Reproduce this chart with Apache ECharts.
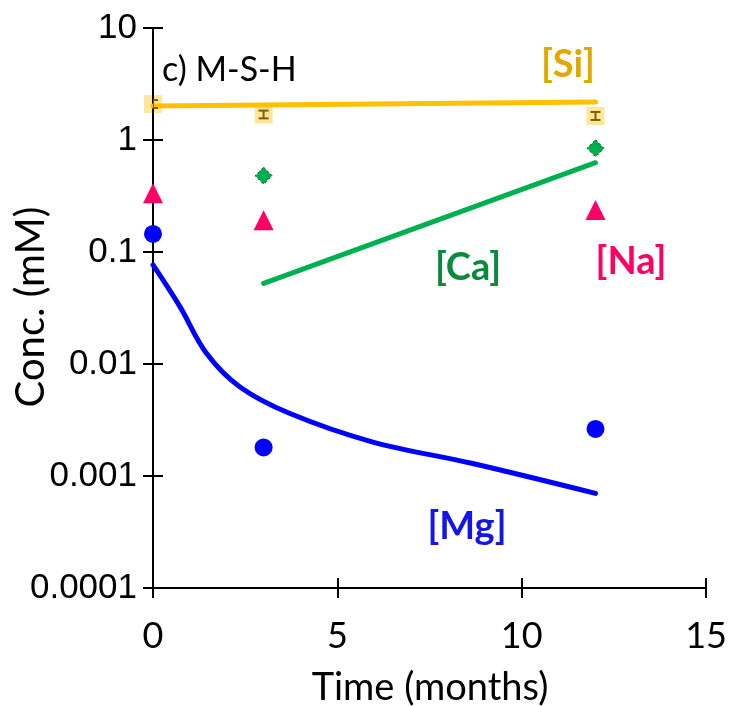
<!DOCTYPE html>
<html>
<head>
<meta charset="utf-8">
<script src="https://cdn.jsdelivr.net/npm/echarts@6/dist/echarts.min.js"></script>
<style>
  html, body { margin: 0; padding: 0; background: #fff; }
  #chart { width: 730px; height: 706px; }
</style>
</head>
<body>
<div id="chart"></div>
<script>
// Time axis (months) and log concentration axis tick labels
const xTicks = [0, 5, 10, 15];
const yTickLabels = ['0.0001', '0.001', '0.01', '0.1', '1', '10'];

// Measured concentrations (mM)
const siTime = [0, 3, 12];
const siConc = [2.09, 1.69, 1.64];
const siLow = [1.93, 1.56, 1.51];
const siHigh = [2.27, 1.83, 1.78];

const caTime = [3, 12];
const caConc = [0.48, 0.843];

const naTime = [0, 3, 12];
const naConc = [0.334, 0.192, 0.237];

const mgTime = [0, 3, 12];
const mgConc = [0.145, 0.0018, 0.00263];

// Modelled concentrations (mM)
const siModelTime = [0, 12];
const siModelConc = [2.01, 2.18];

const caModelTime = [3, 12];
const caModelConc = [0.0525, 0.627];

const mgModelTime = [0, 0.73, 1.45, 2.35, 3.70, 5.94, 8.64, 12];
const mgModelConc = [0.0766, 0.0325, 0.01247, 0.00627, 0.00363, 0.00202, 0.0013, 0.0007];

const pairs = (xs, ys) => xs.map((x, i) => [x, ys[i]]);

const chart = echarts.init(document.getElementById('chart'));

const tickStyle = { color: '#000', width: 2 };
const baseX = {
  type: 'value', min: 0, max: 15, interval: 5,
  axisLine: { show: true, onZero: false, lineStyle: { color: '#000', width: 2 } },
  splitLine: { show: false }
};
const baseY = {
  type: 'log', logBase: 10, min: 0.0001, max: 10,
  axisLine: { show: true, lineStyle: { color: '#000', width: 2 } },
  splitLine: { show: false }
};

chart.setOption({
  animation: false,
  backgroundColor: '#fff',
  grid: { left: 153, right: 21, top: 28, bottom: 118 },
  xAxis: [
    Object.assign({}, baseX, {
      z: 1,
      axisTick: { show: true, inside: false, length: 10, lineStyle: tickStyle },
      axisLabel: {
        color: '#000', fontFamily: 'Lato', fontSize: 36, margin: 30,
        formatter: v => xTicks.includes(v) ? String(v) : ''
      }
    }),
    Object.assign({}, baseX, {
      position: 'bottom',
      axisLine: { show: false },
      axisTick: { show: true, inside: true, length: 10, lineStyle: tickStyle },
      axisLabel: { show: false }
    })
  ],
  yAxis: [
    Object.assign({}, baseY, {
      z: 1,
      axisTick: { show: true, inside: false, length: 10, lineStyle: tickStyle },
      axisLabel: {
        color: '#000', fontFamily: 'Liberation Sans', fontSize: 35, margin: 16,
        formatter: v => yTickLabels[Math.round(Math.log10(v)) + 4] || ''
      }
    }),
    Object.assign({}, baseY, {
      position: 'left',
      axisLine: { show: false },
      axisTick: { show: true, inside: true, length: 10, lineStyle: tickStyle },
      axisLabel: { show: false }
    })
  ],
  series: [
    {
      name: 'Si', type: 'scatter', data: pairs(siTime, siConc),
      symbol: 'rect', symbolSize: 18, itemStyle: { color: '#FFE699', opacity: 1 }, z: 0
    },
    {
      name: 'Si model', type: 'line', data: pairs(siModelTime, siModelConc),
      symbol: 'none', lineStyle: { color: '#FFC000', width: 5, cap: 'round' }, z: 3
    },
    {
      name: 'Si error', type: 'custom', clip: true, z: 4,
      data: siTime.map((t, i) => [t, siLow[i], siHigh[i]]),
      renderItem: function (params, api) {
        const lo = api.coord([api.value(0), api.value(1)]);
        const hi = api.coord([api.value(0), api.value(2)]);
        const w = 5;
        const style = { stroke: '#7F6000', lineWidth: 2, fill: null };
        return {
          type: 'group',
          children: [
            { type: 'line', shape: { x1: lo[0], y1: lo[1], x2: hi[0], y2: hi[1] }, style },
            { type: 'line', shape: { x1: lo[0] - w, y1: lo[1], x2: lo[0] + w, y2: lo[1] }, style },
            { type: 'line', shape: { x1: hi[0] - w, y1: hi[1], x2: hi[0] + w, y2: hi[1] }, style }
          ]
        };
      }
    },
    {
      name: 'Ca model', type: 'line', data: pairs(caModelTime, caModelConc),
      symbol: 'none', lineStyle: { color: '#00B050', width: 5, cap: 'round' }, z: 3
    },
    {
      name: 'Ca', type: 'scatter', data: pairs(caTime, caConc),
      symbol: 'diamond', symbolSize: [17, 17],
      itemStyle: { color: '#00B050', opacity: 1, borderColor: '#1a1a1a', borderWidth: 1, borderType: [2, 3] }, z: 4
    },
    {
      name: 'Na', type: 'scatter', data: pairs(naTime, naConc),
      symbol: 'triangle', symbolSize: [20, 20], itemStyle: { color: '#FF0066', opacity: 1 }, z: 4
    },
    {
      name: 'Mg model', type: 'line', data: pairs(mgModelTime, mgModelConc),
      symbol: 'none', smooth: 0.35, lineStyle: { color: '#0000FF', width: 5, cap: 'round', join: 'round' }, z: 3
    },
    {
      name: 'Mg', type: 'scatter', data: pairs(mgTime, mgConc),
      symbol: 'circle', symbolSize: 18, itemStyle: { color: '#0000FF', opacity: 1 }, z: 4
    }
  ],
  graphic: [
    // axis titles
    { type: 'text', x: 430, y: 688, style: { text: 'Time (months)', fill: '#000', font: '38px Lato', align: 'center', verticalAlign: 'middle' } },
    { type: 'text', x: 31, y: 307, rotation: Math.PI / 2, style: { text: 'Conc. (mM)', fill: '#000', font: '40px Lato', align: 'center', verticalAlign: 'middle' } },
    // panel title and species labels
    { type: 'text', left: 162, top: 53, style: { text: 'c) M-S-H', fill: '#000', font: '34px Lato' } },
    { type: 'text', x: 568, y: 65, style: { text: '[Si]', fill: '#E0A800', font: 'bold 38px Lato', align: 'center', verticalAlign: 'middle' } },
    { type: 'text', x: 468, y: 268, style: { text: '[Ca]', fill: '#098A3C', font: 'bold 38px Lato', align: 'center', verticalAlign: 'middle' } },
    { type: 'text', x: 631, y: 262, style: { text: '[Na]', fill: '#FF0066', font: 'bold 38px Lato', align: 'center', verticalAlign: 'middle' } },
    { type: 'text', x: 467, y: 527, style: { text: '[Mg]', fill: '#1515E8', font: 'bold 38px Lato', align: 'center', verticalAlign: 'middle' } }
  ]
});
</script>
</body>
</html>
